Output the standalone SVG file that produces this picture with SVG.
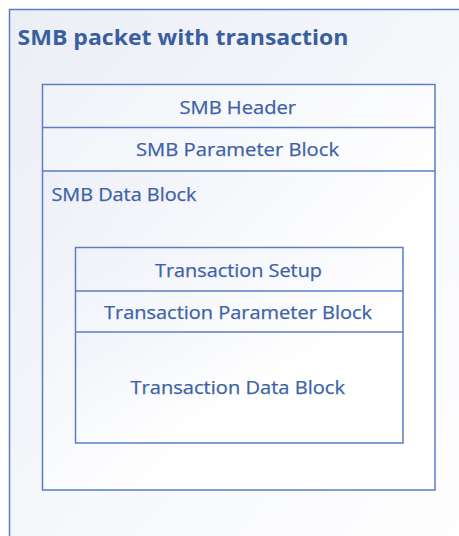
<svg xmlns="http://www.w3.org/2000/svg" width="459" height="536" viewBox="0 0 459 536">
  <defs>
    <linearGradient id="shade" x1="0" y1="0" x2="1" y2="1">
      <stop offset="0" stop-color="#eaedf6"/>
      <stop offset="0.65" stop-color="#ffffff"/>
      <stop offset="1" stop-color="#ffffff"/>
    </linearGradient>
    <linearGradient id="shadeOuter" x1="0" y1="0" x2="1" y2="1">
      <stop offset="0" stop-color="#eceef6"/>
      <stop offset="0.6" stop-color="#f8f9fc"/>
      <stop offset="1" stop-color="#ffffff"/>
    </linearGradient>
    <style>
      .box { stroke: #5a7ec3; stroke-width: 1.5; fill: url(#shade); }
      .row { stroke: #5a7ec3; stroke-width: 1.5; fill: none; }
      .lbl { font-family: "Open Sans", "Liberation Sans", sans-serif; font-size: 18px; fill: #3d62a8; stroke: #3d62a8; stroke-width: 0.25; }
      .title { font-family: "Open Sans", "Liberation Sans", sans-serif; font-size: 22px; font-weight: bold; fill: #3a5f9f; }
    </style>
  </defs>

  <rect width="459" height="536" fill="#ffffff"/>

  <!-- outer packet frame, open to the right and bottom -->
  <g id="packet">
    <rect x="9.5" y="9.5" width="470" height="560" fill="url(#shadeOuter)" stroke="#5a7ec3" stroke-width="1.5"/>
    <text class="title" x="17.5" y="44.5" textLength="331" lengthAdjust="spacingAndGlyphs">SMB packet with transaction</text>
  </g>

  <!-- SMB message -->
  <g id="smb">
    <rect class="box" x="42.5" y="84.5" width="392.5" height="405.5"/>
    <rect x="43.5" y="85.5" width="390.5" height="85" fill="#ffffff" opacity="0.35"/>
    <line class="row" x1="42.5" y1="127.5" x2="435" y2="127.5"/>
    <line class="row" x1="42.5" y1="171" x2="435" y2="171"/>
    <text class="lbl" x="179.5" y="113.5" textLength="116.5" lengthAdjust="spacingAndGlyphs">SMB Header</text>
    <text class="lbl" x="136" y="156" textLength="203" lengthAdjust="spacingAndGlyphs">SMB Parameter Block</text>
    <text class="lbl" x="51.5" y="201" textLength="145" lengthAdjust="spacingAndGlyphs">SMB Data Block</text>
  </g>

  <!-- transaction payload inside the data block -->
  <g id="transaction">
    <rect class="box" x="75.5" y="247.5" width="327.5" height="195.5"/>
    <rect x="76.5" y="248.5" width="325.5" height="82.5" fill="#ffffff" opacity="0.3"/>
    <line class="row" x1="75.5" y1="291" x2="403" y2="291"/>
    <line class="row" x1="75.5" y1="332" x2="403" y2="332"/>
    <text class="lbl" x="155" y="277" textLength="167" lengthAdjust="spacingAndGlyphs">Transaction Setup</text>
    <text class="lbl" x="104" y="319" textLength="268" lengthAdjust="spacingAndGlyphs">Transaction Parameter Block</text>
    <text class="lbl" x="130.5" y="394" textLength="214.5" lengthAdjust="spacingAndGlyphs">Transaction Data Block</text>
  </g>
</svg>
